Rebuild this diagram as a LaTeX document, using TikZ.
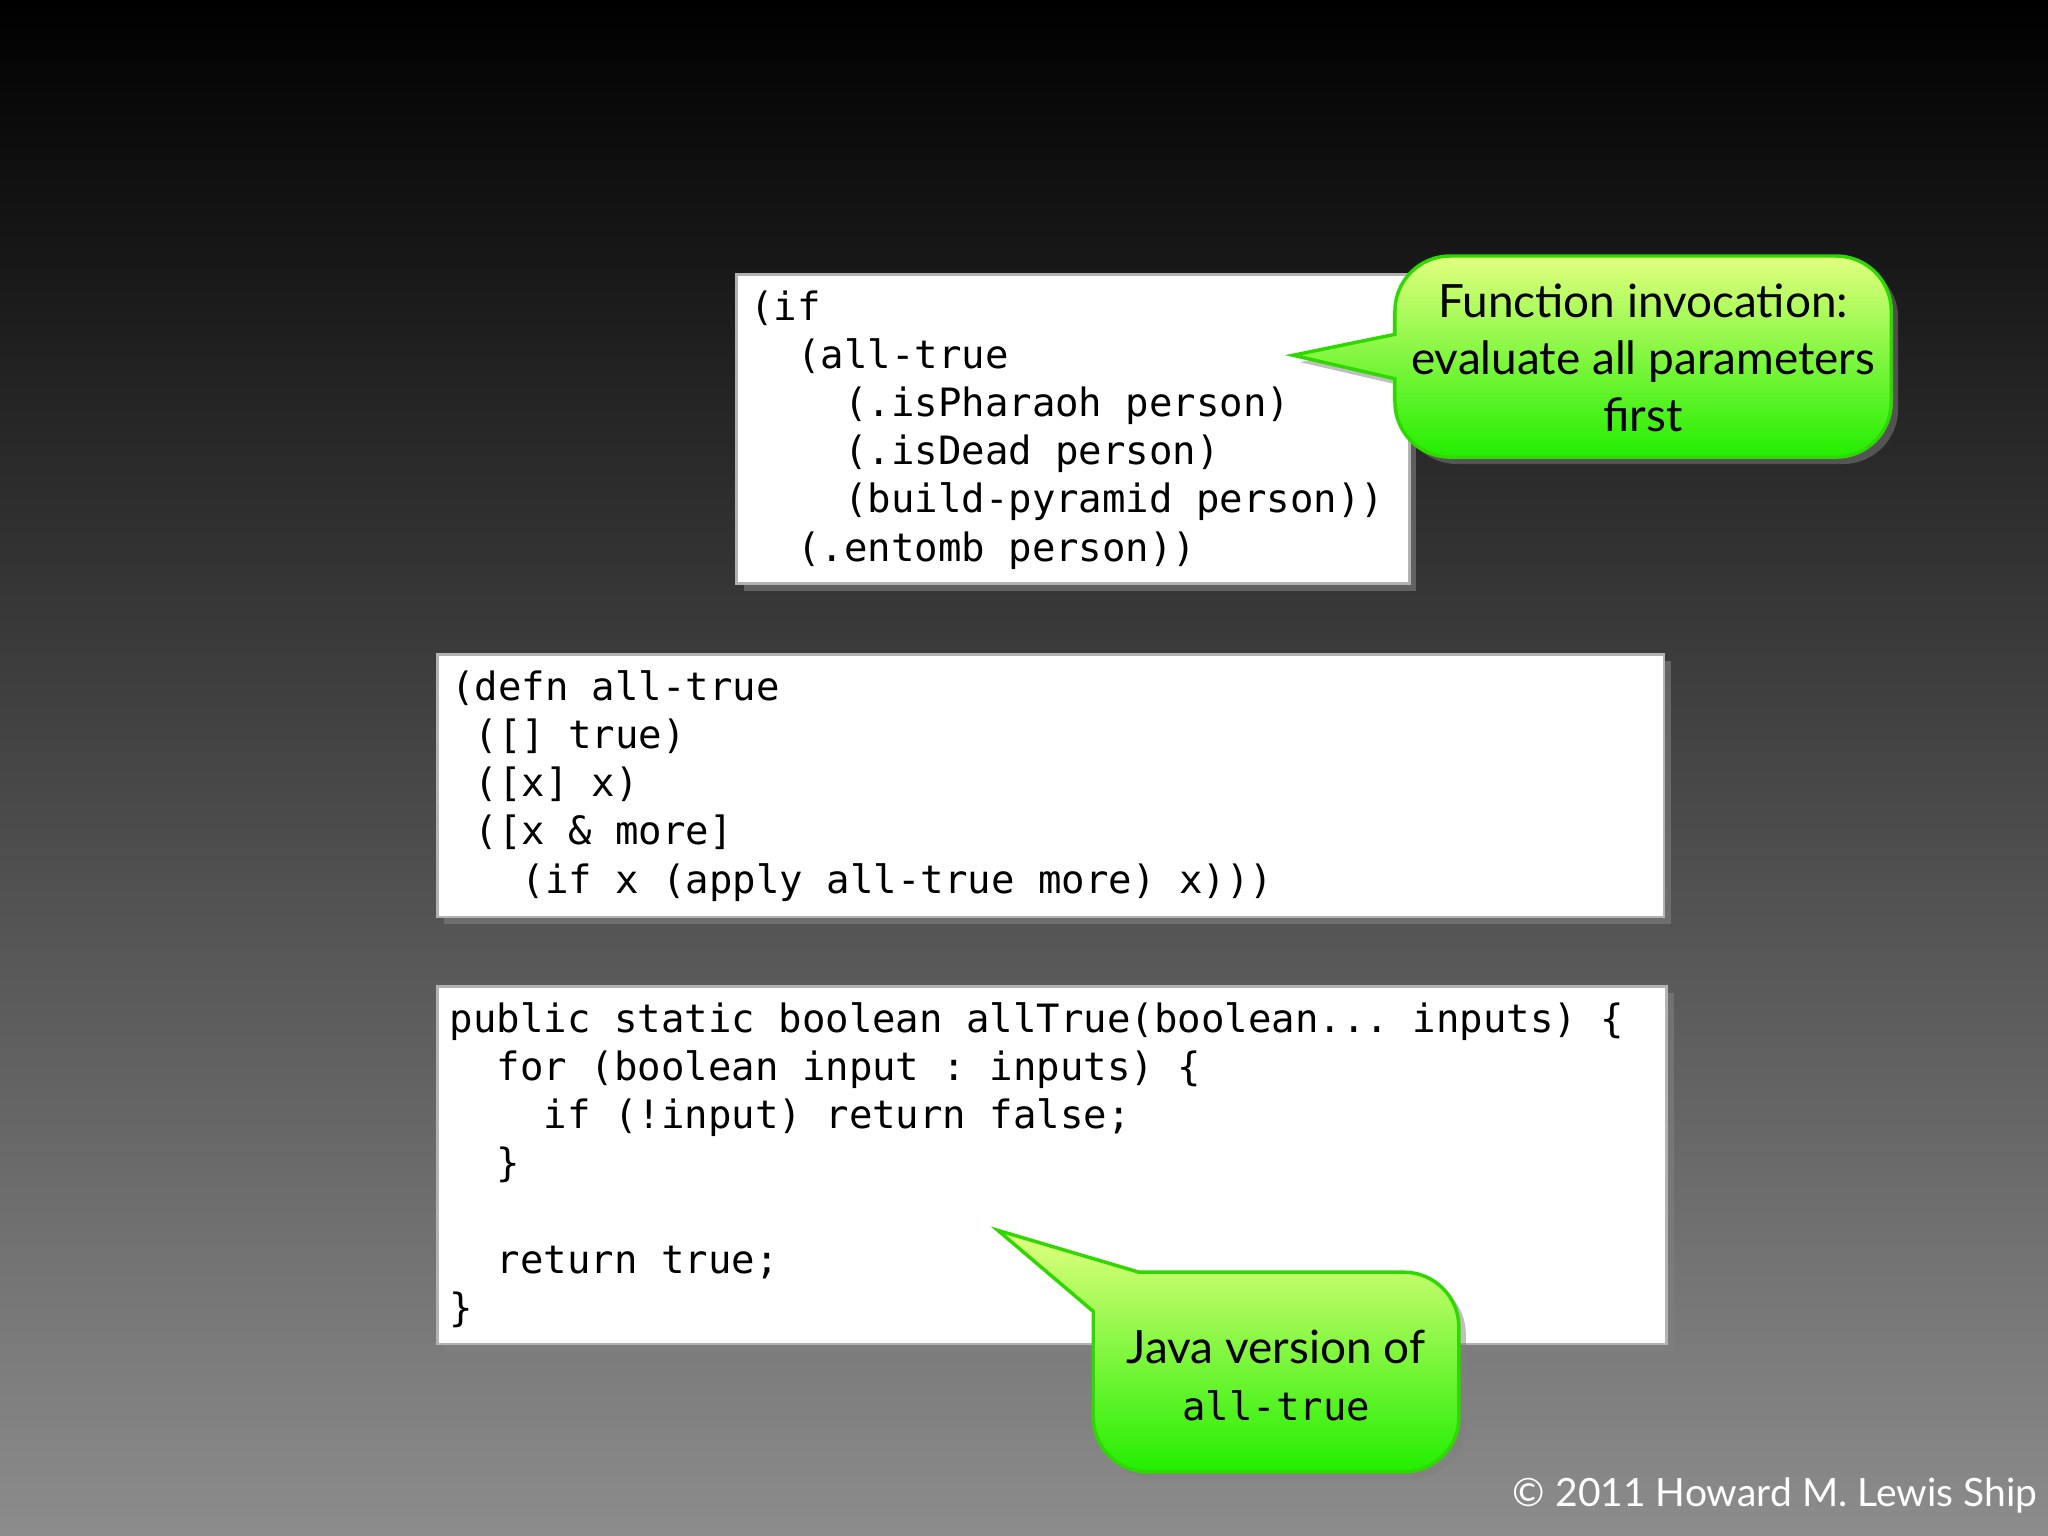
\documentclass[tikz,border=0pt]{standalone}
\usepackage{fontspec}
\setmainfont{Lato}
\setmonofont{DejaVu Sans Mono}
\usetikzlibrary{shadows}
\definecolor{gtop}{HTML}{E2FF80}
\definecolor{gbot}{HTML}{22EE00}
\definecolor{gline}{HTML}{2FD800}
\begin{document}
\begin{tikzpicture}[x=0.02cm,y=-0.02cm,
  codebox/.style={fill=white,draw=gray!60,line width=1.2pt,drop shadow={opacity=0.6,shadow xshift=3pt,shadow yshift=-3pt}},
  code/.style={anchor=north west,inner sep=0pt,align=left,font=\fontsize{17}{21}\selectfont\ttfamily,text=black},
  callout/.style={top color=gtop,bottom color=gbot,draw=gline,line width=1.5pt,drop shadow={opacity=0.5,shadow xshift=3pt,shadow yshift=-3pt}},
  ctext/.style={align=center,font=\fontsize{20}{25}\selectfont,text=black}]
\shade[top color=black,bottom color=black!45!white] (0,0) rectangle (1568,1176);
\useasboundingbox (0,0) rectangle (1568,1176);
% box 1
\draw[codebox] (564,210) rectangle (1079,447);
\node[code] (c1) at (574,222) {(if\\
~~(all-true\\
~~~~(.isPharaoh person)\\
~~~~(.isDead person)\\
~~~~(build-pyramid person))\\
~~(.entomb person))};
% box 2
\draw[codebox] (335,501) rectangle (1274,702);
\node[code] (c2) at (345,513) {(defn all-true\\
~([] true)\\
~([x] x)\\
~([x \& more]\\
~~~(if x (apply all-true more) x)))};
% box 3
\draw[codebox] (335,755) rectangle (1276,1029);
\node[code] (c3) at (344,767) {public static boolean allTrue(boolean... inputs) \{\\
~~for (boolean input : inputs) \{\\
~~~~if (!input) return false;\\
~~\}\\
\strut\\
~~return true;\\
\}};
% callout 1
\path[callout] (990,272) -- (1068,256) [rounded corners=24]-- (1068,196) -- (1448,196) -- (1448,350) -- (1068,350) [sharp corners]-- (1068,290) -- cycle;
\node[ctext] (t1) at (1258,274) {Function invocation:\\evaluate all parameters\\first};
% callout 2
\path[callout] (764,942) -- (872,974) [rounded corners=24]-- (1117,974) -- (1117,1127) -- (837,1127) [sharp corners]-- (837,1004) -- cycle;
\node[ctext] (t2) at (977,1053) {Java version of\\{\ttfamily\fontsize{17}{21}\selectfont all-true}};
% copyright
\node[anchor=east,text=white,font=\fontsize{17}{20}\selectfont,inner sep=0pt] (cp) at (1560,1145) {© 2011 Howard M. Lewis Ship};
\end{tikzpicture}
\end{document}
